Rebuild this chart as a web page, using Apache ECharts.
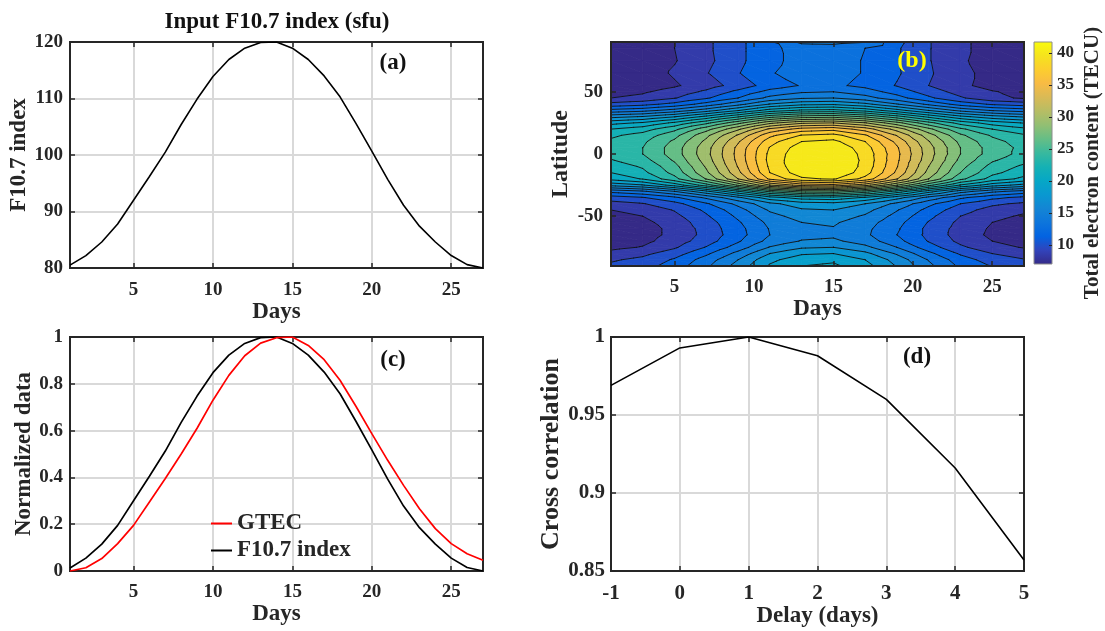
<!DOCTYPE html>
<html>
<head>
<meta charset="utf-8">
<title>F10.7 and TEC</title>
<script src="https://cdn.jsdelivr.net/npm/echarts@6/dist/echarts.min.js"></script>
<style>
  html, body { margin: 0; padding: 0; background: #ffffff; }
  #chart { width: 1105px; height: 631px; }
</style>
</head>
<body>
<div id="chart"></div>
<script>
// ---- data ---------------------------------------------------------------
const days = [1, 2, 3, 4, 5, 6, 7, 8, 9, 10, 11, 12, 13, 14, 15, 16, 17, 18, 19, 20, 21, 22, 23, 24, 25, 26, 27];
const f107 = [80.5, 82.2, 84.6, 87.8, 92.0, 96.2, 100.5, 105.4, 109.9, 113.9, 116.9, 118.9, 119.9, 120.0,
              118.9, 116.9, 114.0, 110.3, 105.6, 100.7, 95.7, 91.1, 87.4, 84.6, 82.2, 80.6, 80.0];
const gtecNorm = [0.0, 0.014, 0.053, 0.117, 0.195, 0.295, 0.395, 0.50, 0.61, 0.73, 0.836, 0.92, 0.974, 0.997,
                  1.0, 0.964, 0.903, 0.815, 0.704, 0.587, 0.473, 0.366, 0.266, 0.181, 0.117, 0.074, 0.046];
const delays = [-1, 0, 1, 2, 3, 4, 5];
const crossCorr = [0.969, 0.993, 1.000, 0.988, 0.960, 0.916, 0.857];

// TEC map: rows follow tecLats, columns follow tecDays
const tecDays = [1, 3, 5, 7, 9, 11, 13, 15, 17, 19, 21, 23, 25, 27];
const tecLats = [90, 85, 75, 65, 55, 50, 45, 40, 35, 30, 25, 20, 15, 10, 5, 0,
                 -5, -10, -15, -20, -25, -30, -35, -40, -45, -50, -55, -60, -65, -70, -75, -80, -85, -90];
const tecGrid = [
  [7.3, 7.7, 8.5, 9.7, 11.1, 12.8, 14.9, 15.0, 14.6, 11.9, 10.1, 8.8, 7.9, 7.5],
  [7.3, 7.7, 8.5, 9.7, 11.1, 12.7, 13.5, 13.7, 13.0, 11.7, 10.1, 8.8, 7.9, 7.5],
  [7.3, 7.6, 8.4, 9.6, 11.1, 12.7, 13.4, 13.6, 12.9, 11.6, 10.1, 8.7, 7.9, 7.5],
  [7.3, 7.7, 8.7, 9.9, 11.4, 12.9, 13.5, 13.6, 12.9, 11.7, 10.2, 8.9, 8.0, 7.5],
  [7.4, 7.6, 8.3, 9.3, 10.6, 12.2, 13.1, 13.3, 12.6, 11.4, 10.0, 8.8, 8.0, 7.6],
  [7.9, 8.3, 9.1, 10.3, 11.9, 13.5, 14.3, 14.5, 13.7, 12.4, 10.8, 9.4, 8.6, 8.1],
  [8.5, 8.9, 9.9, 11.3, 13.0, 14.9, 15.8, 16.0, 15.1, 13.6, 11.8, 10.2, 8.9, 8.3],
  [10.5, 11.0, 12.0, 13.6, 15.5, 17.6, 18.6, 18.8, 17.9, 16.1, 14.2, 12.4, 11.3, 10.8],
  [13.5, 14.0, 15.1, 16.8, 18.9, 21.2, 22.3, 22.5, 21.5, 19.6, 17.5, 15.6, 14.4, 13.8],
  [17.0, 17.6, 18.9, 20.9, 23.3, 25.9, 27.2, 27.5, 26.3, 24.1, 21.6, 19.4, 18.1, 17.3],
  [20.0, 20.7, 22.3, 24.6, 27.5, 30.6, 32.2, 32.5, 31.1, 28.5, 25.5, 22.9, 21.3, 20.4],
  [22.0, 22.8, 24.6, 27.4, 30.7, 34.3, 36.1, 36.5, 34.8, 31.9, 28.4, 25.3, 23.5, 22.4],
  [23.2, 24.1, 26.0, 29.1, 32.7, 36.6, 38.6, 39.0, 37.2, 33.9, 30.2, 26.8, 24.8, 23.7],
  [23.8, 24.7, 26.8, 29.9, 33.8, 37.9, 40.0, 40.4, 38.5, 35.1, 31.1, 27.6, 25.5, 24.3],
  [24.1, 25.0, 27.2, 30.4, 34.4, 38.6, 40.8, 41.2, 39.2, 35.7, 31.6, 28.0, 25.8, 24.6],
  [24.0, 25.0, 27.2, 30.5, 34.5, 38.9, 41.1, 41.5, 39.5, 35.9, 31.7, 28.0, 25.8, 24.5],
  [23.4, 24.4, 26.7, 30.2, 34.4, 39.0, 41.2, 41.7, 39.6, 35.8, 31.5, 27.6, 25.2, 24.0],
  [22.6, 23.7, 26.0, 29.7, 34.1, 38.8, 41.2, 41.7, 39.5, 35.6, 31.0, 27.0, 24.5, 23.2],
  [22.0, 23.1, 25.5, 29.2, 33.6, 38.5, 40.9, 41.4, 39.2, 35.2, 30.5, 26.5, 23.9, 22.6],
  [21.0, 22.1, 24.5, 28.1, 32.5, 37.3, 39.7, 40.2, 38.0, 34.1, 29.5, 25.4, 22.9, 21.6],
  [18.0, 18.9, 21.1, 24.3, 28.2, 32.5, 34.6, 35.0, 33.1, 29.6, 25.5, 21.9, 19.7, 18.5],
  [13.5, 14.3, 16.0, 18.7, 21.9, 25.4, 27.2, 27.5, 25.9, 23.0, 19.7, 16.7, 14.9, 13.9],
  [10.8, 11.4, 12.7, 14.8, 17.2, 19.9, 21.2, 21.5, 20.3, 18.1, 15.5, 13.3, 11.9, 11.1],
  [9.4, 9.9, 11.0, 12.8, 14.9, 17.1, 18.3, 18.5, 17.5, 15.6, 13.4, 11.5, 10.3, 9.7],
  [8.5, 9.0, 10.1, 11.8, 13.9, 16.2, 17.3, 17.5, 16.5, 14.6, 12.5, 10.6, 9.4, 8.8],
  [8.0, 8.5, 9.6, 11.3, 13.3, 15.5, 16.6, 16.8, 15.8, 14.0, 11.9, 10.0, 8.9, 8.3],
  [7.6, 8.1, 9.2, 10.8, 12.8, 14.9, 16.0, 16.2, 15.2, 13.5, 11.4, 9.6, 8.5, 7.9],
  [7.4, 7.9, 8.9, 10.6, 12.5, 14.6, 15.7, 15.9, 14.9, 13.2, 11.1, 9.4, 8.3, 7.7],
  [7.4, 7.9, 8.9, 10.5, 12.4, 14.5, 15.5, 15.7, 14.8, 13.0, 11.1, 9.3, 8.2, 7.7],
  [7.6, 8.1, 9.2, 10.8, 12.8, 15.0, 16.1, 16.3, 15.3, 13.5, 11.4, 9.6, 8.5, 7.9],
  [8.1, 8.6, 9.8, 11.6, 13.7, 16.1, 17.3, 17.5, 16.4, 14.5, 12.2, 10.3, 9.0, 8.4],
  [9.0, 9.6, 10.8, 12.7, 15.0, 17.5, 18.8, 19.0, 17.9, 15.8, 13.4, 11.3, 10.0, 9.3],
  [9.8, 10.4, 11.7, 13.7, 16.0, 18.6, 19.9, 20.2, 19.0, 16.9, 14.4, 12.2, 10.8, 10.1],
  [10.3, 10.9, 12.2, 14.2, 16.6, 19.2, 20.5, 20.8, 19.6, 17.4, 14.9, 12.7, 11.4, 10.6]
];
const tecLevels = [8.5, 10, 11.5, 13, 14.5, 16, 17.5, 19, 20.5, 22, 23.5, 25, 26.5, 28,
                   29.5, 31, 32.5, 34, 35.5, 37, 38.5, 40];
const tecMin = 7.0, tecMax = 41.7;

// tick labels
const dayTicks = [5, 10, 15, 20, 25];
const latTicks = [-50, 0, 50];
const tecTicks = [10, 15, 20, 25, 30, 35, 40];

// parula colour map
const parulaStops = ['#352a87', '#3243ba', '#0363e1', '#0d75dc', '#1485d4', '#0998d1', '#06a7c6', '#15b1b4',
                     '#38b99e', '#65be86', '#92bf73', '#b7bd64', '#d9ba56', '#f8bb44', '#fcce2e', '#f5e41d', '#f9fb0e'];

// ---- helpers ------------------------------------------------------------
function hexRgb(h) {
  return [parseInt(h.slice(1, 3), 16), parseInt(h.slice(3, 5), 16), parseInt(h.slice(5, 7), 16)];
}
function parula(t) {
  t = Math.max(0, Math.min(1, t));
  const p = t * (parulaStops.length - 1);
  const i = Math.min(Math.floor(p), parulaStops.length - 2);
  const f = p - i;
  const a = hexRgb(parulaStops[i]), b = hexRgb(parulaStops[i + 1]);
  return 'rgb(' + a.map((c, k) => Math.round(c + (b[k] - c) * f)).join(',') + ')';
}
// filled band k spans [level k-1, level k) and takes the colour of its lower level
const bandColors = [];
for (let k = 0; k <= tecLevels.length; k++) {
  const lower = k === 0 ? tecMin : tecLevels[k - 1];
  bandColors.push(parula((lower - tecMin) / (tecMax - tecMin)));
}

// keep one side of a polygon with respect to a level (Sutherland-Hodgman on the value)
function clipSide(pts, L, keepAbove) {
  const out = [];
  for (let i = 0; i < pts.length; i++) {
    const a = pts[i], b = pts[(i + 1) % pts.length];
    const ina = keepAbove ? a.v >= L : a.v <= L;
    const inb = keepAbove ? b.v >= L : b.v <= L;
    if (ina) out.push(a);
    if (ina !== inb) {
      const t = (L - a.v) / (b.v - a.v);
      out.push({ x: a.x + t * (b.x - a.x), y: a.y + t * (b.y - a.y), v: L });
    }
  }
  return out;
}

function gridValue(i, j) {
  let v = tecGrid[i][j];
  if (tecLevels.indexOf(v) >= 0) v += 1e-4;   // keep vertices off the level values
  return v;
}

// filled bands and contour segments per grid cell, in data coordinates
const cellItems = [], cellFills = [], cellLines = [];
for (let i = 0; i < tecLats.length - 1; i++) {
  for (let j = 0; j < tecDays.length - 1; j++) {
    const P = (ii, jj) => ({ x: tecDays[jj], y: tecLats[ii], v: gridValue(ii, jj) });
    const a = P(i, j), b = P(i, j + 1), c = P(i + 1, j + 1), d = P(i + 1, j);
    const fills = [], segs = [];
    [[a, b, c], [a, c, d]].forEach(tri => {
      const vs = tri.map(p => p.v);
      const vmin = Math.min.apply(null, vs), vmax = Math.max.apply(null, vs);
      for (let k = 0; k <= tecLevels.length; k++) {
        const lo = k === 0 ? -Infinity : tecLevels[k - 1];
        const hi = k === tecLevels.length ? Infinity : tecLevels[k];
        if (vmax < lo || vmin > hi) continue;
        let poly = clipSide(tri, lo, true);
        poly = clipSide(poly, hi, false);
        if (poly.length >= 3) fills.push({ pts: poly.map(p => [p.x, p.y]), color: bandColors[k] });
      }
      tecLevels.forEach(L => {
        const cross = [];
        for (let e = 0; e < 3; e++) {
          const p = tri[e], q = tri[(e + 1) % 3];
          if ((p.v - L) * (q.v - L) < 0) {
            const t = (L - p.v) / (q.v - p.v);
            cross.push([p.x + t * (q.x - p.x), p.y + t * (q.y - p.y)]);
          }
        }
        if (cross.length === 2) segs.push(cross);
      });
    });
    cellItems.push([(tecDays[j] + tecDays[j + 1]) / 2, (tecLats[i] + tecLats[i + 1]) / 2, cellFills.length]);
    cellFills.push(fills);
    cellLines.push(segs);
  }
}

const fNorm = (() => {
  const lo = Math.min.apply(null, f107), hi = Math.max.apply(null, f107);
  return f107.map(v => (v - lo) / (hi - lo));
})();

// ---- styling --------------------------------------------------------------
const FONT = '"Liberation Serif", "Times New Roman", serif';
const INK = '#262626';
const tick = (vals) => ({ show: true, inside: true, length: 5, lineStyle: { color: INK, width: 1.5 }, customValues: vals });
const label = (size, margin, vals) => ({ show: true, color: INK, fontFamily: FONT, fontWeight: 'bold', fontSize: size, margin: margin, customValues: vals });
const nameStyle = (size) => ({ color: INK, fontFamily: FONT, fontWeight: 'bold', fontSize: size });
const gridLine = { show: true, lineStyle: { color: '#d9d9d9', width: 2 } };
const boxLine = { show: true, onZero: false, lineStyle: { color: INK, width: 2, cap: 'square' } };

function mirror(gridIndex, position, min, max, extra) {
  return Object.assign({
    gridIndex, type: 'value', position, min, max,
    axisLine: boxLine, axisLabel: { show: false }, splitLine: { show: false }
  }, extra);
}

const chart = echarts.init(document.getElementById('chart'), null, { renderer: 'canvas' });

const option = {
  animation: false,
  backgroundColor: '#ffffff',
  grid: [
    { left: 70, top: 42, width: 413, height: 226 },
    { left: 611, top: 42, width: 413, height: 224 },
    { left: 70, top: 337, width: 413, height: 234 },
    { left: 611, top: 337, width: 413, height: 234 },
    { left: 1034, top: 42, width: 18, height: 222 }
  ],
  xAxis: [
    { gridIndex: 0, type: 'value', min: 1, max: 27, axisLine: boxLine, axisTick: tick(dayTicks),
      axisLabel: label(19, 13, dayTicks), splitLine: gridLine,
      name: 'Days', nameLocation: 'middle', nameGap: 29, nameTextStyle: nameStyle(23) },
    mirror(0, 'top', 1, 27, { axisTick: tick(dayTicks) }),
    { gridIndex: 1, type: 'value', min: 1, max: 27, z: 12, axisLine: boxLine, axisTick: tick(dayTicks),
      axisLabel: label(19, 12, dayTicks), splitLine: { show: false },
      name: 'Days', nameLocation: 'middle', nameGap: 24, nameTextStyle: nameStyle(23) },
    mirror(1, 'top', 1, 27, { z: 12, axisTick: tick(dayTicks) }),
    { gridIndex: 2, type: 'value', min: 1, max: 27, axisLine: boxLine, axisTick: tick(dayTicks),
      axisLabel: label(19, 12, dayTicks), splitLine: gridLine,
      name: 'Days', nameLocation: 'middle', nameGap: 29, nameTextStyle: nameStyle(23) },
    mirror(2, 'top', 1, 27, { axisTick: tick(dayTicks) }),
    { gridIndex: 3, type: 'value', min: -1, max: 5, interval: 1, axisLine: boxLine, axisTick: tick(null),
      axisLabel: label(21, 12, null), splitLine: gridLine,
      name: 'Delay (days)', nameLocation: 'middle', nameGap: 33, nameTextStyle: nameStyle(23) },
    mirror(3, 'top', -1, 5, { interval: 1, axisTick: tick(null) }),
    { gridIndex: 4, type: 'value', min: 0, max: 1, show: false }
  ],
  yAxis: [
    { gridIndex: 0, type: 'value', min: 80, max: 120, interval: 10, axisLine: boxLine, axisTick: tick(null),
      axisLabel: label(19, 7, null), splitLine: gridLine,
      name: 'F10.7 index', nameLocation: 'middle', nameGap: 37, nameTextStyle: nameStyle(23) },
    mirror(0, 'right', 80, 120, { interval: 10, axisTick: tick(null) }),
    { gridIndex: 1, type: 'value', min: -90, max: 90, z: 12, axisLine: boxLine, axisTick: tick(latTicks),
      axisLabel: label(19, 8, latTicks), splitLine: { show: false },
      name: 'Latitude', nameLocation: 'middle', nameGap: 38, nameTextStyle: nameStyle(24) },
    mirror(1, 'right', -90, 90, { z: 12, axisTick: tick(latTicks) }),
    { gridIndex: 2, type: 'value', min: 0, max: 1, interval: 0.2, axisLine: boxLine, axisTick: tick(null),
      axisLabel: label(19, 7, null), splitLine: gridLine,
      name: 'Normalized data', nameLocation: 'middle', nameGap: 34, nameTextStyle: nameStyle(23) },
    mirror(2, 'right', 0, 1, { interval: 0.2, axisTick: tick(null) }),
    { gridIndex: 3, type: 'value', min: 0.85, max: 1, interval: 0.05, axisLine: boxLine, axisTick: tick(null),
      axisLabel: label(21, 6, null), splitLine: gridLine,
      name: 'Cross correlation', nameLocation: 'middle', nameGap: 46, nameTextStyle: nameStyle(26) },
    mirror(3, 'right', 0.85, 1, { interval: 0.05, axisTick: tick(null) }),
    { gridIndex: 4, type: 'value', position: 'right', min: tecMin, max: tecMax, z: 12,
      axisLine: { show: false, onZero: false },
      axisTick: { show: true, inside: true, length: 3, lineStyle: { color: INK, width: 1 }, customValues: tecTicks },
      axisLabel: label(17, 5, tecTicks), splitLine: { show: false } }
  ],
  legend: {
    data: ['GTEC', 'F10.7 index'], orient: 'vertical', left: 206, top: 507,
    icon: 'rect', itemWidth: 21, itemHeight: 2, itemGap: 4, selectedMode: false,
    textStyle: { color: INK, fontFamily: FONT, fontWeight: 'bold', fontSize: 23 }
  },
  graphic: [
    { type: 'text', x: 277, y: 22, style: { text: 'Input F10.7 index (sfu)', fill: '#111', font: 'bold 23px ' + FONT, textAlign: 'center', textVerticalAlign: 'middle' } },
    { type: 'text', x: 393, y: 63, style: { text: '(a)', fill: '#111', font: 'bold 23px ' + FONT, textAlign: 'center', textVerticalAlign: 'middle' } },
    { type: 'text', x: 912, y: 61, z: 20, style: { text: '(b)', fill: '#ffff00', font: 'bold 24px ' + FONT, textAlign: 'center', textVerticalAlign: 'middle' } },
    { type: 'text', x: 393, y: 360, style: { text: '(c)', fill: '#111', font: 'bold 23px ' + FONT, textAlign: 'center', textVerticalAlign: 'middle' } },
    { type: 'text', x: 917, y: 357, style: { text: '(d)', fill: '#111', font: 'bold 23px ' + FONT, textAlign: 'center', textVerticalAlign: 'middle' } },
    { type: 'text', x: 1093, y: 163, rotation: Math.PI / 2,
      style: { text: 'Total electron content (TECU)', fill: INK, font: 'bold 21px ' + FONT, textAlign: 'center', textVerticalAlign: 'middle' } }
  ],
  series: [
    { name: 'F10.7 input', type: 'line', xAxisIndex: 0, yAxisIndex: 0, symbol: 'none', z: 3,
      color: '#000000', lineStyle: { color: '#000000', width: 1.6 },
      data: days.map((d, i) => [d, f107[i]]) },
    { name: 'TEC bands', type: 'custom', xAxisIndex: 2, yAxisIndex: 2, silent: true, z: 2,
      data: cellItems,
      renderItem: (params, api) => {
        const idx = api.value(2);
        return {
          type: 'group',
          children: cellFills[idx].map(f => ({
            type: 'polygon',
            shape: { points: f.pts.map(p => api.coord(p)) },
            style: { fill: f.color, stroke: f.color, lineWidth: 0.8 }
          }))
        };
      } },
    { name: 'TEC contours', type: 'custom', xAxisIndex: 2, yAxisIndex: 2, silent: true, z: 4,
      data: cellItems,
      renderItem: (params, api) => {
        const idx = api.value(2);
        return {
          type: 'group',
          children: cellLines[idx].map(s => {
            const p = api.coord(s[0]), q = api.coord(s[1]);
            return { type: 'line', shape: { x1: p[0], y1: p[1], x2: q[0], y2: q[1] },
                     style: { stroke: '#111111', lineWidth: 0.9, lineCap: 'round' } };
          })
        };
      } },
    { name: 'GTEC', type: 'line', xAxisIndex: 4, yAxisIndex: 4, symbol: 'none', z: 4,
      color: '#ff0000', lineStyle: { color: '#ff0000', width: 1.7 },
      data: days.map((d, i) => [d, gtecNorm[i]]) },
    { name: 'F10.7 index', type: 'line', xAxisIndex: 4, yAxisIndex: 4, symbol: 'none', z: 3,
      color: '#000000', lineStyle: { color: '#000000', width: 1.7 },
      data: days.map((d, i) => [d, fNorm[i]]) },
    { name: 'Cross correlation', type: 'line', xAxisIndex: 6, yAxisIndex: 6, symbol: 'none', z: 3,
      color: '#000000', lineStyle: { color: '#000000', width: 1.6 },
      data: delays.map((d, i) => [d, crossCorr[i]]) },
    { name: 'Colour scale', type: 'custom', xAxisIndex: 8, yAxisIndex: 8, silent: true, z: 2,
      data: [[0.5, (tecMin + tecMax) / 2]],
      renderItem: (params, api) => {
        const p0 = api.coord([0, tecMax]), p1 = api.coord([1, tecMin]);
        return {
          type: 'rect',
          shape: { x: p0[0], y: p0[1], width: p1[0] - p0[0], height: p1[1] - p0[1] },
          style: { stroke: '#8c8c8c', lineWidth: 1,
                   fill: new echarts.graphic.LinearGradient(0, 1, 0, 0,
                     parulaStops.map((c, i) => ({ offset: i / (parulaStops.length - 1), color: c }))) }
        };
      } }
  ]
};

chart.setOption(option);
</script>
</body>
</html>
